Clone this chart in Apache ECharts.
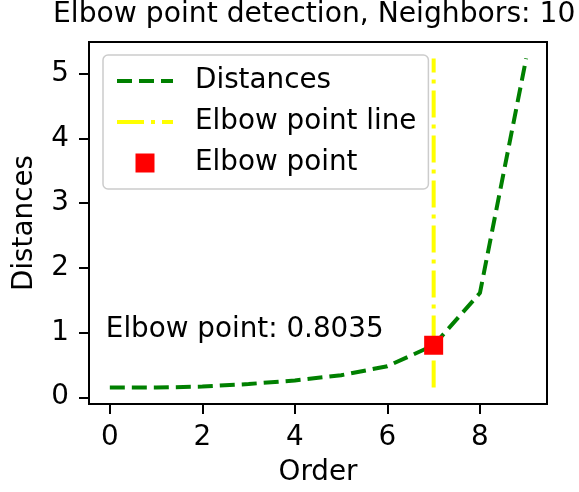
<!DOCTYPE html>
<html>
<head>
<meta charset="utf-8">
<script src="https://cdn.jsdelivr.net/npm/echarts@6/dist/echarts.min.js"></script>
<style>
  html, body { margin: 0; padding: 0; background: #fff; }
  #elbow { width: 579px; height: 492px; }
</style>
</head>
<body>
<div id="elbow"></div>
<script>
// data
const orders = [0, 1, 2, 3, 4, 5, 6, 7, 8, 9]
const distances = [0.15, 0.15, 0.165, 0.205, 0.26, 0.34, 0.48, 0.8035, 1.61, 5.234]
const elbowOrder = 7
const elbowValue = 0.8035
const xTicks = [0, 2, 4, 6, 8]
const yTicks = [0, 1, 2, 3, 4, 5]
const noteText = 'Elbow point: 0.8035'
const noteAt = [0, 0.9035]

const font = 'DejaVu Sans'
let myChart = echarts.init(document.getElementById('elbow'))

let dmin = Math.min(...distances)
let dmax = Math.max(...distances)

// 图例里的线条不要圆点
let noDot = { color: 'rgba(0,0,0,0)', borderColor: 'rgba(0,0,0,0)', borderWidth: 0, opacity: 0 }
let greenDash = { color: 'green', width: 4, type: [15, 7] }
let yellowDashDot = { color: 'yellow', width: 4, type: [27, 7, 4, 7] }

let opt = {
  animation: false,
  backgroundColor: '#fff',
  // 标题
  title: {
    text: 'Elbow point detection, Neighbors: 10',
    left: 53,
    top: 1,
    padding: 0,
    textStyle: { fontFamily: font, fontSize: 28.2, fontWeight: 'normal', color: '#000' }
  },
  // 图例
  legend: {
    orient: 'vertical',
    left: 103,
    top: 55,
    padding: [12, 12, 12, 12],
    itemWidth: 56,
    itemHeight: 19,
    itemGap: 13,
    borderColor: '#ccc',
    borderWidth: 1.5,
    borderRadius: 5,
    backgroundColor: 'rgba(255,255,255,0.8)',
    textStyle: { fontFamily: font, fontSize: 27.8, lineHeight: 28, color: '#000', padding: [0, 0, 0, 17] },
    data: [
      { name: 'Distances', itemStyle: noDot, lineStyle: greenDash },
      { name: 'Elbow point line', itemStyle: noDot, lineStyle: yellowDashDot },
      { name: 'Elbow point', icon: 'path://M0,0 L1,0 L1,1 L0,1 Z' }
    ]
  },
  grid: {
    left: 89, right: 32, top: 42, bottom: 88,
    show: true, borderColor: '#000', borderWidth: 2
  },
  xAxis: {
    type: 'value',
    min: -0.45, max: 9.45,
    name: 'Order',
    nameLocation: 'middle',
    nameGap: 55,
    nameTextStyle: { fontFamily: font, fontSize: 27.8, color: '#000' },
    axisLine: { show: true, onZero: false, lineStyle: { color: '#000', width: 2 } },
    axisTick: { show: true, length: 10, lineStyle: { color: '#000', width: 2 }, customValues: xTicks },
    axisLabel: { fontFamily: font, fontSize: 27.8, color: '#000', margin: 20, customValues: xTicks },
    splitLine: { show: false }
  },
  yAxis: {
    type: 'value',
    min: -0.104, max: 5.488,
    name: 'Distances',
    nameLocation: 'middle',
    nameGap: 50,
    nameTextStyle: { fontFamily: font, fontSize: 27.8, color: '#000' },
    axisLine: { show: true, onZero: false, lineStyle: { color: '#000', width: 2 } },
    axisTick: { show: true, length: 10, lineStyle: { color: '#000', width: 2 }, customValues: yTicks },
    axisLabel: { fontFamily: font, fontSize: 27.8, color: '#000', margin: 20, customValues: yTicks },
    splitLine: { show: false }
  },
  series: [
    {
      name: 'Distances',
      type: 'line',
      symbol: 'none',
      data: orders.map((o, i) => [o, distances[i]]),
      lineStyle: greenDash,
      itemStyle: { color: 'green' },
      z: 2
    },
    {
      name: 'Elbow point line',
      type: 'line',
      symbol: 'none',
      data: [[elbowOrder, dmin], [elbowOrder, dmax]],
      lineStyle: yellowDashDot,
      itemStyle: { color: 'yellow' },
      z: 3
    },
    {
      name: 'Elbow point',
      type: 'scatter',
      symbol: 'rect',
      symbolSize: 19,
      data: [[elbowOrder, elbowValue]],
      itemStyle: { color: 'red', opacity: 1 },
      z: 4,
      markPoint: {
        symbol: 'rect',
        symbolSize: 0,
        data: [{ coord: noteAt }],
        label: {
          show: true,
          position: [0, 0],
          align: 'left',
          verticalAlign: 'bottom',
          offset: [-4, 5],
          formatter: noteText,
          fontFamily: font,
          fontSize: 27.8,
          lineHeight: 28,
          color: '#000'
        }
      }
    }
  ]
}

myChart.setOption(opt)
</script>
</body>
</html>
